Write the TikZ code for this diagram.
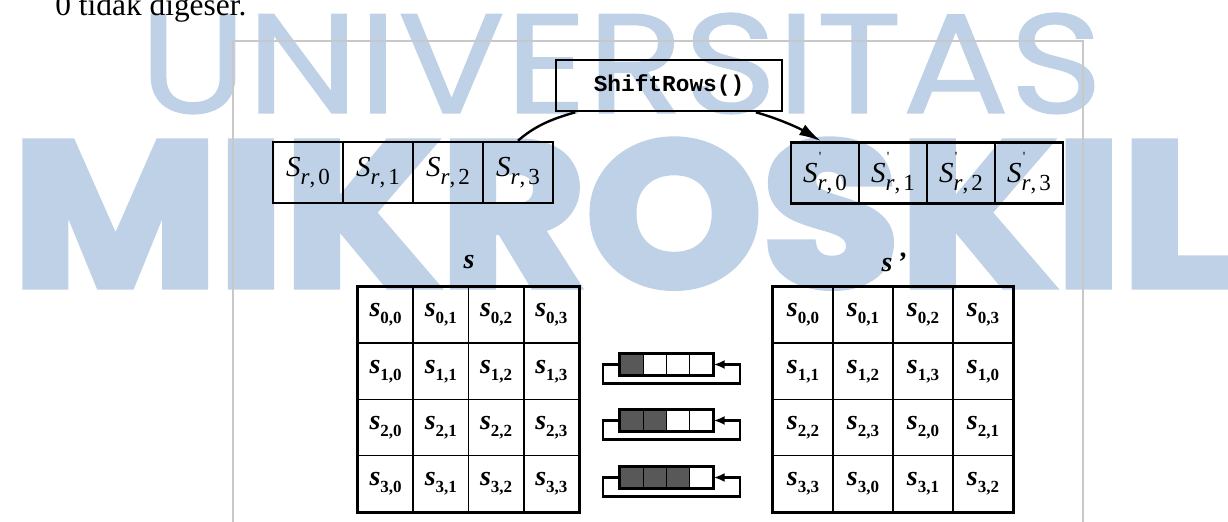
\documentclass[tikz,border=0pt]{standalone}
\usepackage{fontspec}
\usepackage{graphicx}
\setmainfont{Liberation Serif}
\newfontfamily\codefont{Liberation Mono}
\newfontfamily\wmlight[FakeBold=0.8]{Poppins}
\newfontfamily\wmheavy[FakeBold=3.5]{Poppins}
\usetikzlibrary{arrows.meta,calc}

\definecolor{wmblue}{RGB}{190,209,230}
\definecolor{framegray}{RGB}{200,200,200}
\definecolor{cellgray}{RGB}{88,88,88}

% s_{r,c} in the single-row boxes
\newcommand{\rowS}[1]{{\fontsize{14.5}{16}\selectfont\itshape S}\raisebox{-4pt}{\fontsize{11.5}{13}\selectfont\itshape r\upshape,\kern1.6pt#1}}
% s'_{r,c}
\newcommand{\rowSp}[1]{{\fontsize{14.5}{16}\selectfont\itshape S\rlap{\kern0.6pt\raisebox{10.5pt}{\fontsize{7}{8}\selectfont\upshape\textquotesingle}}}\raisebox{-4pt}{\fontsize{11.5}{13}\selectfont\itshape r\upshape,\kern1.6pt#1}}
% state matrix entry
\newcommand{\matS}[2]{{\fontsize{14}{15}\selectfont\bfseries\itshape s}\raisebox{-3.5pt}{\fontsize{8.5}{10}\selectfont\bfseries #1,#2}}

\begin{document}
\begin{tikzpicture}[x=0.5pt,y=-0.5pt,
  wmark/.style={inner sep=0, text=wmblue},
  opbox/.style={draw, line width=1.3pt, minimum width=113pt, minimum height=25.5pt, inner sep=0,
    font=\codefont\bfseries\fontsize{11.4}{12}\selectfont},
  rowcell/.style={draw, line width=1.3pt, minimum width=35pt, minimum height=30.5pt, inner sep=0},
  matcell/.style={draw, line width=0.75pt, minimum height=28.1pt, inner sep=0},
  icell/.style={draw, line width=0.7pt, minimum width=11.6pt, minimum height=10.5pt, inner sep=0},
  link/.style={line width=1.2pt},
  loopline/.style={line width=1.1pt, -{Latex[length=5.5pt,width=4.5pt]}},
  lab/.style={inner sep=0, font=\fontsize{14}{15}\selectfont\bfseries\itshape}]
\useasboundingbox (0,0) rectangle (1228,522);
\clip (0,0) rectangle (1228,522);

% watermark lettering
\node[wmark, anchor=base west] (wmtop) at (139,113) {\resizebox{481.5pt}{50pt}{\wmlight UNIVERSITAS}};
\node[wmark, anchor=base west] (wmbot) at (12,286) {\resizebox{608pt}{73pt}{\wmheavy\bfseries MIKROSKIL}};

% running text above the figure
\node[anchor=base west, inner sep=0, font=\fontsize{15.7}{18}\selectfont] (cap) at (55,16) {0 tidak digeser.};

% figure frame
\draw[framegray, line width=0.6pt] (233,530) -- (233,41) -- (1083,41) -- (1083,530);

% operation box
\node[opbox] (shift) at (669,85.5) {ShiftRows()};

% single rows before and after
\foreach \i/\x in {0/308,1/378,2/448,3/518}
  \node[rowcell] (l\i) at (\x,172.5) {\rowS{\i}};
\foreach \i/\x in {0/825,1/893,2/961,3/1029}
  \node[rowcell, minimum width=34pt] (r\i) at (\x,173) {\rowSp{\i}};

\draw[link] ($(shift.south west)!0.09!(shift.south east)$) .. controls +(-25,7) and +(16,-14) .. (l3.north);
\draw[link,-{Latex[length=11pt,width=6pt]}] ($(shift.south west)!0.88!(shift.south east)$) .. controls +(25,7) and +(-20,-12) .. ([xshift=-2pt]r0.north);

% state s
\node[lab] (slab) at (469,262) {s};
\foreach \r in {0,...,3}
  \foreach \c in {0,...,3}
    \node[matcell, minimum width=27.6pt] (a\r\c) at ({385.6+55.25*\c},{315.1+56.25*\r}) {\matS{\r}{\c}};
\draw[line width=1.2pt] (a00.north west) rectangle (a33.south east);

% state s'
\node[lab] (splab) at (894,262) {s\,’};
\foreach \r in {0,...,3}
  \foreach \c in {0,...,3}{
    \pgfmathtruncatemacro\k{mod(\c+\r,4)}
    \node[matcell, minimum width=30pt] (b\r\c) at ({803+60*\c},{315.1+56.25*\r}) {\matS{\r}{\k}};
  }
\draw[line width=1.2pt] (b00.north west) rectangle (b33.south east);

% cyclic shift icons
\foreach \k/\y in {1/364.5,2/420.5,3/477.5}{
  \foreach \j in {0,...,3}{
    \ifnum\j<\k \def\cf{cellgray}\else\def\cf{white}\fi
    \node[icell, fill=\cf] (i\k\j) at ({631.6+23.25*\j},\y) {};
  }
  \draw[line width=0.9pt] (i\k0.north west) rectangle (i\k3.south east);
  \draw[loopline] (i\k0.west) -- ++(-16,0) -- ++(0,19) -| ($(i\k3.east)+(26,0)$) -- (i\k3.east);
}
\end{tikzpicture}
\end{document}
